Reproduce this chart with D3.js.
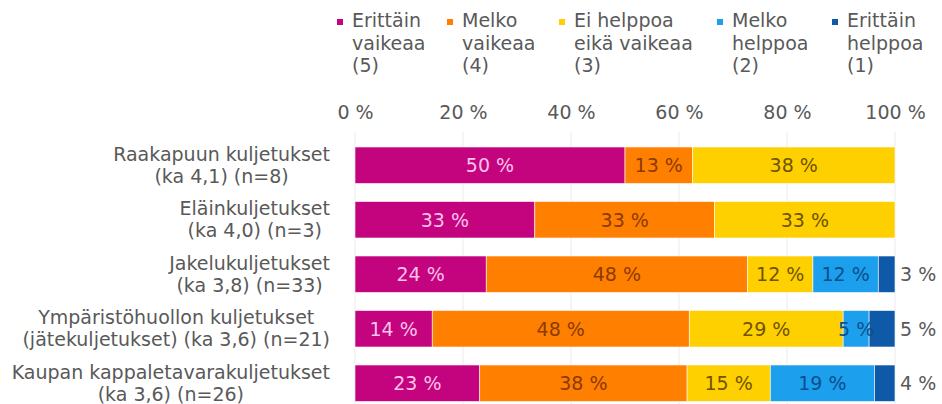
<!DOCTYPE html>
<html>
<head>
<meta charset="utf-8">
<script src="https://cdn.jsdelivr.net/npm/d3@7/dist/d3.min.js"></script>
<style>
    body { margin: 0; background: #ffffff; }
    svg text { font-family: 'DejaVu Sans', Verdana, sans-serif; }
</style>
</head>
<body>
<div id="chart"></div>
<script>
// categories (two lines each)
const categories = [
    'Raakapuun kuljetukset',
    'Eläinkuljetukset',
    'Jakelukuljetukset',
    'Ympäristöhuollon kuljetukset',
    'Kaupan kappaletavarakuljetukset'
];
const categoryNotes = [
    '(ka 4,1) (n=8)',
    '(ka 4,0) (n=3)',
    '(ka 3,8) (n=33)',
    '(jätekuljetukset) (ka 3,6) (n=21)',
    '(ka 3,6) (n=26)'
];

// series, in %
const seriesKeys = ['e5', 'm4', 'e3', 'm2', 'e1'];
const seriesNames = [
    ['Erittäin', 'vaikeaa', '(5)'],
    ['Melko', 'vaikeaa', '(4)'],
    ['Ei helppoa', 'eikä vaikeaa', '(3)'],
    ['Melko', 'helppoa', '(2)'],
    ['Erittäin', 'helppoa', '(1)']
];
const erittainVaikeaa = [50, 33.3, 24.3, 14.3, 23.1];
const melkoVaikeaa = [12.5, 33.3, 48.4, 47.6, 38.4];
const eiHelppoaEikaVaikeaa = [37.5, 33.4, 12.1, 28.5, 15.4];
const melkoHelppoa = [0, 0, 12.1, 4.8, 19.3];
const erittainHelppoa = [0, 0, 3.1, 4.8, 3.8];

const tickValues = [0, 20, 40, 60, 80, 100];

const colors = ['#c4037f', '#ff7f00', '#ffd000', '#1c9fec', '#0e5aa9'];
const labelColors = ['#fbc2ea', '#8c3a00', '#6e5400', '#0b4f8c', '#595959'];
const fontSize = '19px';

const table = categories.map((c, i) => ({
    category: c,
    e5: erittainVaikeaa[i],
    m4: melkoVaikeaa[i],
    e3: eiHelppoaEikaVaikeaa[i],
    m2: melkoHelppoa[i],
    e1: erittainHelppoa[i]
}));

const width = 942;
const height = 404;

const svg = d3.select('#chart')
    .append('svg')
    .attr('width', width)
    .attr('height', height);

const x = d3.scaleLinear()
    .domain([0, 100])
    .range([355, 895]);

const y = d3.scaleBand()
    .domain(categories)
    .range([138, 410.5])
    .paddingInner(0.33)
    .paddingOuter(0.165);

// gridlines
svg.append('g')
    .selectAll('line')
    .data(tickValues)
    .enter()
    .append('line')
    .attr('x1', d => x(d))
    .attr('x2', d => x(d))
    .attr('y1', 132)
    .attr('y2', 404)
    .attr('stroke', '#ebebeb')
    .attr('stroke-width', 1);

// top axis labels
const xAxis = d3.axisTop(x)
    .tickValues(tickValues)
    .tickSize(0)
    .tickPadding(0)
    .tickFormat(d => d + ' %');

svg.append('g')
    .attr('transform', 'translate(0, 119)')
    .call(xAxis)
    .call(g => g.select('.domain').remove())
    .selectAll('text')
    .attr('font-family', "'DejaVu Sans', Verdana, sans-serif")
    .attr('font-size', fontSize)
    .attr('fill', '#595959')
    .attr('dy', 0);

// stacked bars
const stacked = d3.stack().keys(seriesKeys)(table);

const layers = svg.append('g')
    .selectAll('g')
    .data(stacked)
    .enter()
    .append('g')
    .attr('fill', (d, i) => colors[i]);

layers.selectAll('rect')
    .data(d => d.filter(s => s[1] - s[0] > 0))
    .enter()
    .append('rect')
    .attr('x', d => x(d[0]))
    .attr('y', d => y(d.data.category))
    .attr('width', d => x(d[1]) - x(d[0]))
    .attr('height', y.bandwidth())
    .attr('stroke', '#ffffff')
    .attr('stroke-width', 0.6);

// value labels
stacked.forEach((layer, li) => {
    const last = li === stacked.length - 1;
    svg.append('g')
        .selectAll('text')
        .data(layer.filter(s => s[1] - s[0] > 0))
        .enter()
        .append('text')
        .attr('x', d => last ? x(100) + 5 : (x(d[0]) + x(d[1])) / 2)
        .attr('y', d => y(d.data.category) + y.bandwidth() / 2 + 7)
        .attr('text-anchor', last ? 'start' : 'middle')
        .attr('font-size', fontSize)
        .attr('fill', labelColors[li])
        .text(d => Math.round(d[1] - d[0]) + ' %');
});

// category labels, right aligned block with centred lines
categories.forEach((c, i) => {
    const cy = y(c) + y.bandwidth() / 2;
    const g = svg.append('g');
    const t1 = g.append('text')
        .attr('y', cy - 4.5)
        .attr('text-anchor', 'middle')
        .attr('font-size', fontSize)
        .attr('fill', '#595959')
        .text(c);
    const t2 = g.append('text')
        .attr('y', cy + 17.5)
        .attr('text-anchor', 'middle')
        .attr('font-size', fontSize)
        .attr('fill', '#595959')
        .text(categoryNotes[i]);
    const w = Math.max(t1.node().getComputedTextLength(), t2.node().getComputedTextLength());
    t1.attr('x', 330 - w / 2);
    t2.attr('x', 330 - w / 2);
});

// legend
const legendX = [337, 447, 559, 717, 832];
seriesNames.forEach((lines, i) => {
    svg.append('rect')
        .attr('x', legendX[i])
        .attr('y', 19)
        .attr('width', 6)
        .attr('height', 6)
        .attr('fill', colors[i]);

    svg.selectAll('.legend' + i)
        .data(lines)
        .enter()
        .append('text')
        .attr('class', 'legend' + i)
        .attr('x', legendX[i] + 15)
        .attr('y', (d, j) => 27 + j * 22.5)
        .attr('font-size', fontSize)
        .attr('fill', '#595959')
        .text(d => d);
});
</script>
</body>
</html>
